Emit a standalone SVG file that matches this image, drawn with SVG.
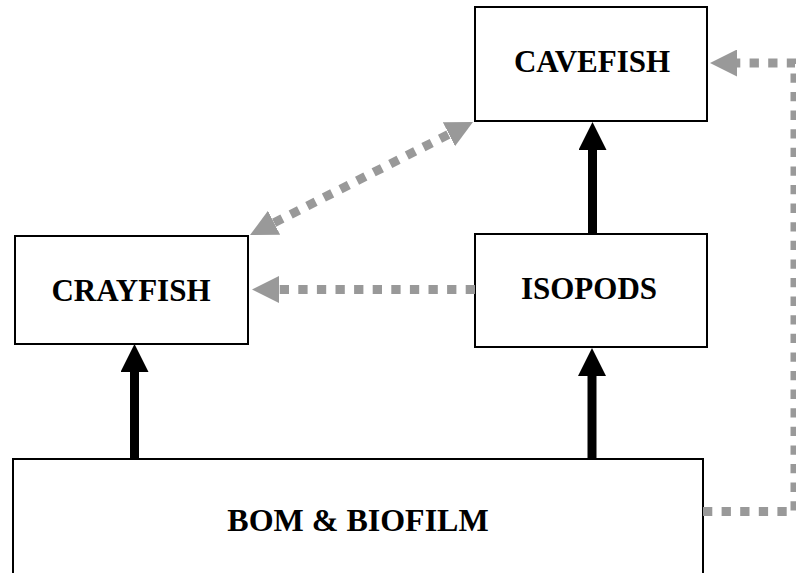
<svg xmlns="http://www.w3.org/2000/svg" width="796" height="573" viewBox="0 0 796 573">
  <style>
    .box { fill: #fff; stroke: #000; stroke-width: 2; }
    .label { font-family: "Liberation Serif", "Times New Roman", serif; font-weight: bold; font-size: 31px; fill: #000; text-anchor: middle; }
    .big { font-size: 32px; }
    .feed { stroke: #000; stroke-width: 9; fill: none; }
    .link { stroke: #999; stroke-width: 9; fill: none; stroke-dasharray: 9.3 9.3; }
  </style>
  <defs>
    <marker id="headBlack" markerUnits="userSpaceOnUse" markerWidth="28" markerHeight="28" refX="0" refY="14" orient="auto" viewBox="0 0 28 28">
      <path d="M0,0 L28,14 L0,28 Z" fill="#000"/>
    </marker>
    <marker id="headGray" markerUnits="userSpaceOnUse" markerWidth="27" markerHeight="27" refX="0" refY="13.5" orient="auto-start-reverse" viewBox="0 0 27 27">
      <path d="M0,0 L27,13.5 L0,27 Z" fill="#999"/>
    </marker>
  </defs>

  <rect width="796" height="573" fill="#fff"/>

  <g id="node-cavefish">
    <rect class="box" x="475" y="7" width="232" height="114"/>
    <text class="label" x="592" y="72">CAVEFISH</text>
  </g>
  <g id="node-crayfish">
    <rect class="box" x="15" y="236" width="233" height="108"/>
    <text class="label" x="131" y="301">CRAYFISH</text>
  </g>
  <g id="node-isopods">
    <rect class="box" x="475" y="234" width="232" height="113"/>
    <text class="label" x="589" y="299">ISOPODS</text>
  </g>
  <g id="node-bom">
    <rect class="box" x="13" y="459" width="690" height="130"/>
    <text class="label big" x="358" y="531">BOM &amp; BIOFILM</text>
  </g>

  <g id="connectors">
    <!-- feeding links (solid black) -->
    <line class="feed" x1="134.5" y1="459" x2="134.5" y2="372" marker-end="url(#headBlack)"/>
    <line class="feed" x1="592" y1="459" x2="592" y2="376" marker-end="url(#headBlack)"/>
    <line class="feed" x1="592.5" y1="234" x2="592.5" y2="150" marker-end="url(#headBlack)"/>
    <!-- other interactions (dotted grey) -->
    <line class="link" x1="475" y1="289.5" x2="279" y2="289.5" marker-end="url(#headGray)"/>
    <line class="link" x1="274.1" y1="222.8" x2="448.9" y2="134.2" marker-start="url(#headGray)" marker-end="url(#headGray)"/>
    <path class="link" d="M703,511.5 H795 V63 H737" marker-end="url(#headGray)"/>
  </g>
</svg>
